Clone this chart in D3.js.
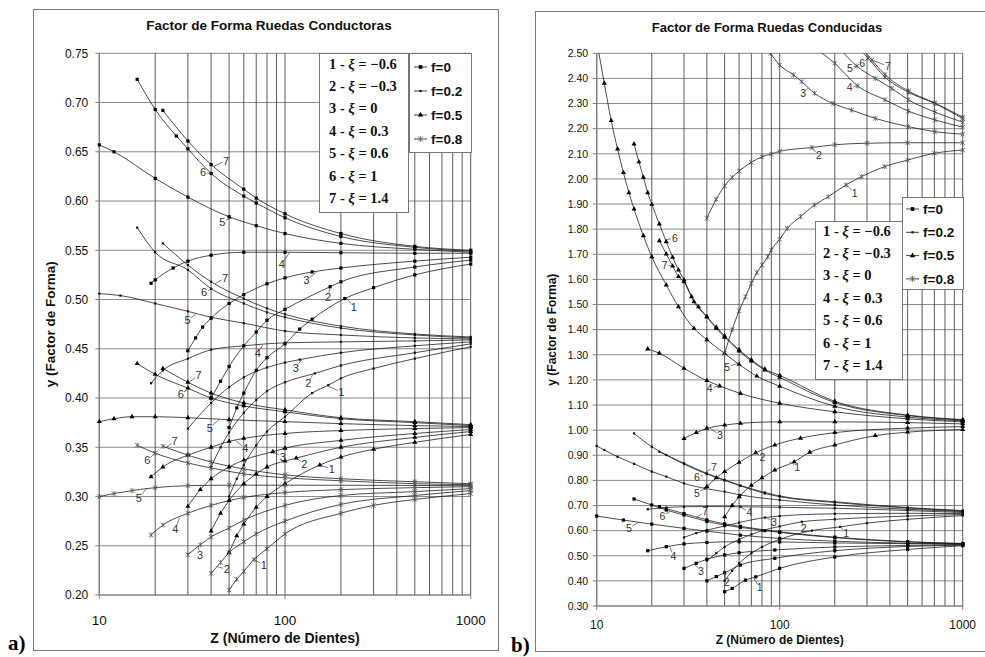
<!DOCTYPE html>
<html>
<head>
<meta charset="utf-8">
<script src="https://cdn.jsdelivr.net/npm/d3@7"></script>
<style>
body{margin:0;background:#fff;}
svg{display:block;}
</style>
</head>
<body>
<svg id="fig" width="985" height="657"></svg>
<script>
// ---- datos: [Z, y] por curva (indice 0 = curva 1 ... indice 6 = curva 7)

var zTicks = [10, 100, 1000];
var condYTicks = [0.20, 0.25, 0.30, 0.35, 0.40, 0.45, 0.50, 0.55, 0.60, 0.65, 0.70, 0.75];
var conducYTicks = [0.30, 0.40, 0.50, 0.60, 0.70, 0.80, 0.90, 1.00, 1.10, 1.20, 1.30, 1.40, 1.50, 1.60, 1.70, 1.80, 1.90, 2.00, 2.10, 2.20, 2.30, 2.40, 2.50];
var fNames = ["f=0", "f=0.2", "f=0.5", "f=0.8"];
var xiNames = [["1", "\u22120.6"], ["2", "\u22120.3"], ["3", "0"], ["4", "0.3"], ["5", "0.6"], ["6", "1"], ["7", "1.4"]];

// a) ruedas conductoras
var condF0 = [
  [[50,0.370],[55,0.390],[60,0.405],[70,0.428],[80,0.441],[100,0.455],[120,0.470],[140,0.480],[210,0.501],[300,0.512],[500,0.525],[1000,0.536]],
  [[40,0.400],[45,0.417],[50,0.432],[60,0.453],[70,0.467],[80,0.479],[100,0.490],[175,0.513],[200,0.518],[500,0.533],[1000,0.540]],
  [[30,0.448],[33,0.461],[36,0.472],[40,0.481],[50,0.496],[60,0.505],[80,0.516],[100,0.522],[140,0.528],[200,0.532],[500,0.539],[1000,0.543]],
  [[19,0.5165],[20,0.520],[25,0.532],[30,0.539],[40,0.545],[60,0.548],[100,0.548],[200,0.5475],[500,0.547],[1000,0.547]],
  [[10,0.657],[12,0.650],[20,0.623],[30,0.604],[50,0.584],[70,0.575],[100,0.567],[200,0.557],[500,0.551],[1000,0.548]],
  [[16,0.7236],[20,0.693],[26,0.666],[30,0.653],[40,0.628],[60,0.605],[70,0.598],[100,0.583],[200,0.564],[500,0.553],[1000,0.549]],
  [[22,0.692],[30,0.661],[40,0.637],[60,0.612],[70,0.603],[100,0.587],[200,0.567],[500,0.554],[1000,0.550]]
];
var condF02 = [
  [[50,0.300],[55,0.318],[60,0.332],[70,0.352],[80,0.366],[100,0.381],[140,0.405],[171,0.413],[200,0.420],[300,0.430],[500,0.440],[1000,0.452]],
  [[40,0.330],[45,0.350],[50,0.365],[60,0.385],[70,0.398],[80,0.407],[100,0.416],[145,0.425],[200,0.433],[500,0.446],[1000,0.455]],
  [[30,0.369],[40,0.395],[50,0.411],[60,0.421],[80,0.431],[100,0.436],[120,0.439],[200,0.446],[500,0.453],[1000,0.457]],
  [[19,0.415],[22,0.428],[30,0.440],[40,0.449],[60,0.453],[100,0.456],[200,0.457],[500,0.458],[1000,0.459]],
  [[10,0.506],[13,0.504],[20,0.496],[30,0.488],[40,0.482],[60,0.476],[100,0.468],[200,0.464],[500,0.461],[1000,0.460]],
  [[16,0.573],[20,0.548],[30,0.530],[40,0.511],[60,0.496],[80,0.487],[100,0.482],[200,0.471],[500,0.464],[1000,0.461]],
  [[22,0.557],[30,0.535],[40,0.518],[60,0.501],[80,0.491],[100,0.485],[200,0.473],[500,0.465],[1000,0.462]]
];
var condF05 = [
  [[50,0.243],[55,0.260],[60,0.272],[70,0.289],[80,0.300],[100,0.313],[154,0.332],[200,0.340],[300,0.348],[500,0.355],[1000,0.363]],
  [[40,0.265],[45,0.283],[50,0.296],[60,0.313],[70,0.323],[80,0.330],[100,0.336],[115,0.339],[200,0.350],[500,0.360],[1000,0.366]],
  [[30,0.290],[35,0.307],[40,0.318],[50,0.330],[60,0.337],[86,0.3455],[100,0.349],[200,0.357],[500,0.364],[1000,0.368]],
  [[19,0.320],[22,0.330],[30,0.342],[40,0.350],[50,0.356],[60,0.359],[100,0.364],[200,0.367],[500,0.369],[1000,0.370]],
  [[10,0.376],[12,0.379],[15,0.381],[20,0.381],[30,0.380],[50,0.378],[100,0.376],[200,0.374],[500,0.372],[1000,0.371]],
  [[16,0.435],[20,0.424],[30,0.410],[40,0.400],[60,0.392],[100,0.386],[200,0.379],[500,0.375],[1000,0.372]],
  [[22,0.430],[30,0.416],[40,0.405],[60,0.395],[100,0.388],[200,0.380],[500,0.376],[1000,0.373]]
];
var condF08 = [
  [[50,0.205],[55,0.216],[60,0.224],[68,0.236],[80,0.247],[100,0.262],[200,0.283],[300,0.291],[500,0.297],[1000,0.303]],
  [[40,0.222],[45,0.233],[50,0.243],[60,0.254],[70,0.262],[100,0.275],[200,0.292],[500,0.301],[1000,0.306]],
  [[30,0.241],[35,0.251],[40,0.259],[50,0.268],[60,0.276],[100,0.291],[200,0.301],[500,0.305],[1000,0.308]],
  [[19,0.261],[22,0.271],[30,0.283],[40,0.291],[60,0.299],[100,0.304],[200,0.307],[500,0.309],[1000,0.310]],
  [[10,0.300],[12,0.303],[15,0.306],[20,0.309],[30,0.311],[50,0.3115],[100,0.3115],[1000,0.311]],
  [[16,0.352],[20,0.344],[30,0.334],[40,0.329],[60,0.323],[100,0.319],[200,0.316],[500,0.313],[1000,0.312]],
  [[22,0.351],[30,0.342],[40,0.335],[60,0.328],[100,0.322],[200,0.318],[500,0.315],[1000,0.313]]
];

// b) ruedas conducidas
var conducF0 = [
  [[50,0.357],[55,0.370],[65,0.403],[74,0.416],[100,0.450],[200,0.495],[500,0.525],[1000,0.540]],
  [[40,0.400],[45,0.417],[50,0.432],[61,0.463],[94,0.490],[200,0.520],[500,0.537],[1000,0.542]],
  [[30,0.450],[35,0.470],[40,0.486],[50,0.503],[60,0.512],[94,0.523],[200,0.535],[500,0.541],[1000,0.544]],
  [[19,0.520],[24,0.536],[30,0.547],[40,0.553],[60,0.556],[100,0.555],[200,0.551],[500,0.548],[1000,0.546]],
  [[10,0.658],[14,0.642],[20,0.626],[30,0.609],[40,0.598],[61,0.582],[100,0.569],[200,0.558],[500,0.550],[1000,0.547]],
  [[16,0.726],[20,0.702],[24,0.682],[30,0.662],[40,0.637],[50,0.622],[61,0.613],[83,0.600],[100,0.593],[200,0.572],[500,0.555],[1000,0.548]],
  [[22,0.695],[30,0.668],[40,0.643],[50,0.627],[61,0.617],[100,0.595],[200,0.574],[500,0.556],[1000,0.549]]
];
var conducF02 = [
  [[50,0.400],[55,0.440],[60,0.470],[70,0.510],[80,0.535],[100,0.565],[150,0.600],[214,0.615],[300,0.630],[500,0.645],[1000,0.660]],
  [[40,0.480],[45,0.510],[50,0.535],[60,0.565],[70,0.585],[80,0.600],[100,0.617],[132,0.635],[200,0.645],[500,0.658],[1000,0.664]],
  [[30,0.573],[35,0.590],[40,0.602],[50,0.618],[60,0.632],[83,0.652],[100,0.658],[200,0.667],[500,0.669],[1000,0.668]],
  [[19,0.685],[24,0.692],[30,0.695],[40,0.696],[61,0.695],[100,0.693],[200,0.689],[500,0.680],[1000,0.672]],
  [[10,0.937],[11,0.921],[13,0.894],[16,0.866],[20,0.835],[24,0.815],[30,0.788],[39,0.768],[50,0.755],[61,0.742],[100,0.722],[200,0.702],[500,0.685],[1000,0.676]],
  [[16,0.987],[20,0.934],[24,0.901],[30,0.865],[40,0.825],[50,0.800],[61,0.778],[83,0.748],[100,0.735],[200,0.712],[500,0.690],[1000,0.678]],
  [[22,0.914],[30,0.868],[40,0.828],[50,0.802],[61,0.780],[83,0.752],[100,0.738],[200,0.715],[500,0.692],[1000,0.680]]
];
var conducF05 = [
  [[50,0.655],[55,0.700],[60,0.735],[70,0.780],[80,0.810],[94,0.841],[120,0.874],[146,0.912],[200,0.941],[333,0.978],[500,0.992],[1000,1.002]],
  [[40,0.775],[45,0.810],[50,0.835],[60,0.872],[74,0.910],[94,0.941],[130,0.968],[200,0.990],[500,1.008],[1000,1.014]],
  [[30,0.967],[35,0.990],[40,1.007],[50,1.020],[61,1.027],[100,1.033],[200,1.033],[500,1.030],[1000,1.025]],
  [[19,1.323],[22,1.306],[30,1.246],[40,1.197],[47,1.176],[61,1.146],[100,1.107],[200,1.073],[500,1.045],[1000,1.033]],
  [[10,2.55],[11,2.381],[12,2.232],[13,2.119],[14,2.025],[15,1.945],[16,1.880],[18,1.774],[20,1.690],[24,1.578],[28,1.491],[34,1.405],[40,1.360],[50,1.305],[60,1.262],[75,1.215],[100,1.175],[200,1.095],[500,1.052],[1000,1.037]],
  [[16,2.139],[17,2.068],[18,2.006],[19,1.945],[20,1.899],[22,1.820],[24,1.750],[26,1.688],[28,1.637],[30,1.598],[34,1.511],[40,1.451],[45,1.405],[50,1.370],[60,1.315],[70,1.275],[83,1.239],[100,1.210],[200,1.110],[500,1.058],[1000,1.040]],
  [[22,1.754],[24,1.701],[26,1.653],[28,1.611],[30,1.590],[33,1.531],[36,1.491],[40,1.451],[45,1.410],[50,1.375],[60,1.320],[70,1.280],[83,1.243],[100,1.218],[200,1.115],[500,1.060],[1000,1.042]]
];
var conducF08 = [
  [[50,1.306],[55,1.400],[60,1.475],[65,1.531],[70,1.584],[75,1.627],[80,1.657],[86,1.690],[90,1.717],[100,1.760],[110,1.803],[130,1.850],[155,1.896],[184,1.929],[230,1.976],[280,2.009],[375,2.049],[500,2.075],[700,2.102],[1000,2.115]],
  [[40,1.843],[45,1.919],[50,1.972],[55,2.006],[60,2.031],[70,2.066],[80,2.088],[90,2.099],[100,2.110],[150,2.125],[200,2.136],[300,2.142],[500,2.144],[1000,2.144]],
  [[85,2.520],[89,2.500],[100,2.453],[119,2.414],[132,2.387],[155,2.341],[196,2.300],[247,2.274],[333,2.241],[505,2.208],[705,2.188],[1000,2.178]],
  [[160,2.515],[200,2.460],[267,2.370],[376,2.315],[505,2.270],[705,2.235],[1000,2.206]],
  [[215,2.515],[264,2.449],[333,2.400],[410,2.360],[505,2.315],[705,2.266],[1000,2.226]],
  [[275,2.515],[304,2.481],[376,2.405],[505,2.345],[705,2.300],[1000,2.240]],
  [[285,2.515],[319,2.473],[376,2.415],[505,2.350],[705,2.302],[1000,2.246]]
];

// etiquetas de curva: [numero, Z, y del punto senalado]
var condLabels = [
  [7,41,0.635],[6,40,0.628],[5,52,0.583],[4,106,0.548],[3,148,0.528],[2,175,0.513],[1,215,0.501],
  [7,42,0.516],[6,41,0.511],[5,33,0.485],[4,76,0.454],[3,123,0.439],[2,142,0.425],[1,171,0.412],
  [7,31,0.417],[6,30,0.409],[5,44,0.378],[4,54,0.357],[3,86,0.3455],[2,115,0.339],[1,154,0.332],
  [7,23,0.350],[6,20,0.344],[5,18,0.308],[4,27,0.278],[3,34,0.250],[2,43,0.229],[1,68,0.236]
];
var conducLabels = [
  [1,232,1.976],[2,150,2.122],[3,143,2.361],[4,267,2.370],[5,264,2.449],[6,304,2.481],[7,319,2.473],
  [6,23.6,1.757],[7,26,1.653],[5,60,1.267],[4,47,1.176],[3,41.6,1.008],[2,73.6,0.910],[1,114,0.874],
  [7,39,0.830],[6,38,0.821],[5,39,0.768],[4,61,0.694],[3,83,0.655],[2,132,0.635],[1,214,0.615],
  [7,35,0.652],[6,25,0.675],[5,17,0.634],[4,25,0.538],[3,34,0.468],[2,50,0.432],[1,72,0.413]
];
// desplazamiento del texto respecto al punto (px)
var condLabelOffsets = [
  [13,-6],[-8,-1],[-10,4],[-8,12],[-10,8],[-2,10],[7,8],
  [10,-6],[-9,3],[-8,6],[-5,8],[-6,8],[-5,10],[13,6],
  [8,-6],[-7,5],[-9,8],[10,8],[10,5],[8,6],[12,4],
  [8,-6],[-8,7],[-8,9],[-4,11],[2,9],[10,3],[10,5]
];
var conducLabelOffsets = [
  [8,8],[7,7],[-5,5],[-8,1],[-7,2],[-6,5],[16,6],
  [10,-2],[-8,-1],[-12,4],[-10,2],[10,7],[7,4],[7,5],
  [9,-6],[-6,2],[-8,5],[9,5],[9,5],[2,6],[6,6],
  [9,-6],[-7,4],[-10,6],[4,10],[7,7],[2,9],[6,10]
];

var svg = d3.select("#fig");
var sans = "'Liberation Sans', Arial, sans-serif";
var serif = "'Liberation Serif', 'Times New Roman', serif";

// simbolos de cada f
function drawMarker(g, kind, cx, cy, big) {
  var k = big ? 1.15 : 1;
  if (kind == 0) {
    g.append("rect").attr("x", cx - 1.6*k).attr("y", cy - 1.6*k)
      .attr("width", 3.2*k).attr("height", 3.2*k).attr("fill", "#000");
  } else if (kind == 1) {
    g.append("rect").attr("x", cx - 1.1).attr("y", cy - 1.1)
      .attr("width", 2.2).attr("height", 2.2).attr("fill", "#111");
  } else if (kind == 2) {
    g.append("path").attr("d", d3.symbol(d3.symbolTriangle, 11*k)())
      .attr("transform", "translate(" + cx + "," + cy + ")").attr("fill", "#000");
  } else {
    var s = 2.2*k;
    g.append("path")
      .attr("d", "M" + (-s) + "," + (-s) + "L" + s + "," + s + "M" + (-s) + "," + s + "L" + s + "," + (-s) + "M0," + (-s-0.4) + "L0," + (s+0.4))
      .attr("transform", "translate(" + cx + "," + cy + ")")
      .attr("stroke", "#555").attr("stroke-width", 0.8).attr("fill", "none");
  }
}

function drawPanel(p) {
  var g = svg.append("g");
  var x = d3.scaleLog().domain([10, 1000]).range([p.x0, p.x1]);
  var y = d3.scaleLinear().domain(p.yDom).range([p.y1, p.y0]);

  // marco del grafico
  g.append("rect").attr("x", p.frame[0] + 0.5).attr("y", p.frame[1] + 0.5)
    .attr("width", p.frame[2]).attr("height", p.frame[3])
    .attr("fill", "#fff").attr("stroke", "#7a7a7a").attr("stroke-width", 1);

  // rejilla
  p.yTicks.forEach(function(t) {
    g.append("line").attr("x1", p.x0).attr("x2", p.x1)
      .attr("y1", y(t)).attr("y2", y(t)).attr("stroke", "#8a8a8a").attr("stroke-width", 1);
  });
  x.ticks().forEach(function(t) {
    g.append("line").attr("x1", x(t)).attr("x2", x(t))
      .attr("y1", p.y0).attr("y2", p.y1).attr("stroke", "#4a4a4a").attr("stroke-width", 0.9);
  });

  // ejes
  g.append("line").attr("x1", p.x0).attr("x2", p.x0).attr("y1", p.y0).attr("y2", p.y1)
    .attr("stroke", "#808080").attr("stroke-width", 1.2);
  g.append("line").attr("x1", p.x0).attr("x2", p.x1).attr("y1", p.y1).attr("y2", p.y1)
    .attr("stroke", "#808080").attr("stroke-width", 1.2);
  p.yTicks.forEach(function(t) {
    g.append("line").attr("x1", p.x0 - 4).attr("x2", p.x0).attr("y1", y(t)).attr("y2", y(t))
      .attr("stroke", "#808080");
    g.append("text").attr("x", p.x0 - p.yLabGap).attr("y", y(t)).attr("dy", "0.36em")
      .attr("text-anchor", "end").attr("font-family", sans).attr("font-size", p.yLabSize)
      .attr("fill", "#111").text(t.toFixed(2));
  });
  zTicks.forEach(function(t) {
    g.append("line").attr("x1", x(t)).attr("x2", x(t)).attr("y1", p.y1).attr("y2", p.y1 + 4)
      .attr("stroke", "#808080");
    g.append("text").attr("x", x(t)).attr("y", p.xLabY).attr("text-anchor", "middle")
      .attr("font-family", sans).attr("font-size", p.xLabSize).attr("fill", "#111").text(t);
  });

  // titulos
  g.append("text").attr("x", p.titleX).attr("y", p.titleY).attr("text-anchor", "middle")
    .attr("font-family", sans).attr("font-weight", "bold").attr("font-size", p.titleSize)
    .attr("fill", "#111").text(p.title);
  g.append("text").attr("x", (p.x0 + p.x1) / 2).attr("y", p.xTitleY).attr("text-anchor", "middle")
    .attr("font-family", sans).attr("font-weight", "bold").attr("font-size", p.xTitleSize)
    .attr("fill", "#111").text("Z (N\u00famero de Dientes)");
  g.append("text").attr("transform", "translate(" + p.yTitleX + "," + (p.y0 + p.y1) / 2 + ") rotate(-90)")
    .attr("text-anchor", "middle").attr("font-family", sans).attr("font-weight", "bold")
    .attr("font-size", p.yTitleSize).attr("fill", "#111").text("y (Factor de Forma)");

  // curvas
  var clipId = "clip" + p.id;
  svg.append("clipPath").attr("id", clipId).append("rect")
    .attr("x", p.x0 - 3).attr("y", p.y0).attr("width", p.x1 - p.x0 + 6).attr("height", p.y1 - p.y0 + 3);
  var cg = g.append("g").attr("clip-path", "url(#" + clipId + ")");
  var line = d3.line().x(function(d) { return x(d[0]); }).y(function(d) { return y(d[1]); })
    .curve(d3.curveMonotoneX);
  p.groups.forEach(function(grp, gi) {
    grp.forEach(function(curve) {
      cg.append("path").attr("d", line(curve)).attr("fill", "none")
        .attr("stroke", "#111").attr("stroke-width", 0.75);
      curve.forEach(function(d) {
        drawMarker(cg, gi, x(d[0]), y(d[1]), false);
      });
    });
  });

  // etiquetas de curva con linea guia
  var lg = g.append("g");
  p.labels.forEach(function(l, i) {
    var ax = x(l[1]), ay = y(l[2]);
    var off = p.labelOffsets[i];
    var tx = ax + off[0], ty = ay + off[1];
    var len = Math.sqrt(off[0]*off[0] + off[1]*off[1]);
    var ex = tx - off[0] / len * 4, ey = ty - off[1] / len * 4;
    lg.append("line").attr("x1", ax).attr("y1", ay).attr("x2", ex).attr("y2", ey)
      .attr("stroke", "#444").attr("stroke-width", 0.7);
    lg.append("text").attr("x", tx).attr("y", ty).attr("dy", "0.36em").attr("text-anchor", "middle")
      .attr("font-family", sans).attr("font-size", p.numSize).attr("fill", "#333").text(l[0]);
  });

  // leyenda de desplazamientos
  var L1 = p.leg1;
  g.append("rect").attr("x", L1.x + 0.5).attr("y", L1.y + 0.5).attr("width", L1.w).attr("height", L1.h)
    .attr("fill", "#fff").attr("stroke", "#777");
  xiNames.forEach(function(r, i) {
    var t = g.append("text").attr("x", L1.tx).attr("y", L1.row0 + i * L1.dy).attr("dy", "0.35em")
      .attr("font-family", serif).attr("font-weight", "bold").attr("font-size", L1.size).attr("fill", "#111");
    t.append("tspan").text(r[0] + " - ");
    t.append("tspan").attr("font-style", "italic").text("\u03be");
    t.append("tspan").text(" = " + r[1]);
  });

  // leyenda de f
  var L2 = p.leg2;
  g.append("rect").attr("x", L2.x + 0.5).attr("y", L2.y + 0.5).attr("width", L2.w).attr("height", L2.h)
    .attr("fill", "#fff").attr("stroke", "#777");
  fNames.forEach(function(n, i) {
    var yy = L2.row0 + i * L2.dy;
    g.append("line").attr("x1", L2.lx0).attr("x2", L2.lx1).attr("y1", yy).attr("y2", yy)
      .attr("stroke", "#111").attr("stroke-width", 0.8);
    drawMarker(g, i, (L2.lx0 + L2.lx1) / 2, yy, true);
    g.append("text").attr("x", L2.tx).attr("y", yy).attr("dy", "0.36em")
      .attr("font-family", sans).attr("font-weight", "bold").attr("font-size", L2.size)
      .attr("fill", "#111").text(n);
  });

  // letra del panel
  svg.append("text").attr("x", p.tagX).attr("y", p.tagY).attr("font-family", serif)
    .attr("font-weight", "bold").attr("font-size", 21).attr("fill", "#000").text(p.tag);
}

drawPanel({
  id: "a", x0: 99.3, x1: 470.7, y0: 53.3, y1: 595, yDom: [0.20, 0.75], yTicks: condYTicks,
  groups: [condF0, condF02, condF05, condF08], labels: condLabels, labelOffsets: condLabelOffsets,
  frame: [33, 9, 465, 641], title: "Factor de Forma Ruedas Conductoras",
  titleX: 269, titleY: 29.5, titleSize: 13.5,
  yLabGap: 11, yLabSize: 12, xLabY: 625, xLabSize: 13.5, xTitleY: 643, xTitleSize: 14,
  yTitleX: 55, yTitleSize: 13.5, numSize: 11,
  leg1: {x: 319, y: 53, w: 89, h: 159, row0: 63.5, dy: 22.4, tx: 329, size: 14.5},
  leg2: {x: 409, y: 53, w: 62, h: 99, row0: 67, dy: 24, lx0: 414, lx1: 427, tx: 431, size: 13.5},
  tag: "a)", tagX: 8, tagY: 650
});

drawPanel({
  id: "b", x0: 596.7, x1: 962.7, y0: 53.3, y1: 606, yDom: [0.30, 2.50], yTicks: conducYTicks,
  groups: [conducF0, conducF02, conducF05, conducF08], labels: conducLabels, labelOffsets: conducLabelOffsets,
  frame: [535, 11, 460, 640], title: "Factor de Forma Ruedas Conducidas",
  titleX: 767, titleY: 31.5, titleSize: 13,
  yLabGap: 8.5, yLabSize: 10.5, xLabY: 629, xLabSize: 12, xTitleY: 644, xTitleSize: 12,
  yTitleX: 556, yTitleSize: 12, numSize: 10.5,
  leg1: {x: 815, y: 221, w: 87, h: 158, row0: 230.5, dy: 22.4, tx: 823, size: 14.5},
  leg2: {x: 902, y: 197, w: 61, h: 92, row0: 209, dy: 23.3, lx0: 906, lx1: 919, tx: 923, size: 13.5},
  tag: "b)", tagX: 511, tagY: 652
});
</script>
</body>
</html>
